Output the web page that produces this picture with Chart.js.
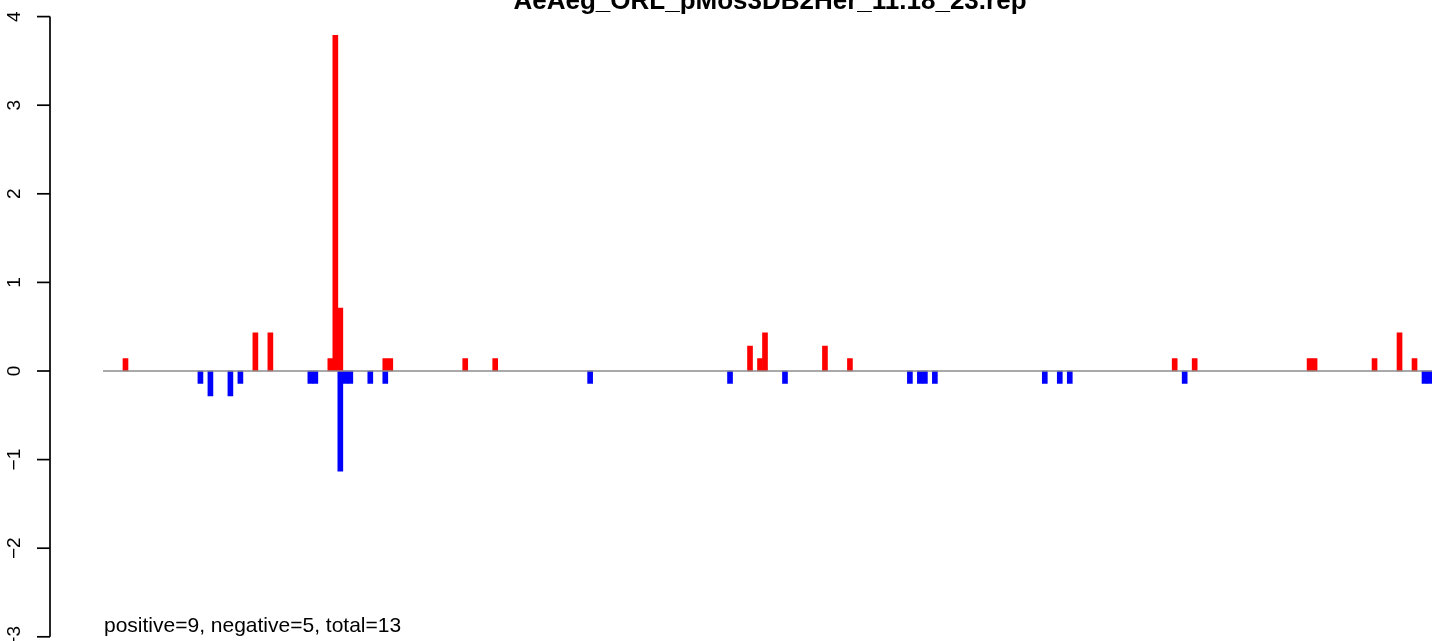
<!DOCTYPE html>
<html>
<head>
<meta charset="utf-8">
<title>AeAeg_ORL_pMos3DB2Her_11.18_23.rep</title>
<script src="https://cdn.jsdelivr.net/npm/chart.js@4/dist/chart.umd.min.js"></script>
<style>
  html, body { margin:0; padding:0; background:#ffffff; overflow:hidden; }
  canvas { display:block; }
</style>
</head>
<body>
<canvas id="chartRep" width="1441" height="641"></canvas>
<script>
/* barplot of positive / negative scores per position */
var slotCount = 266;
var posIndex = [4, 30, 33, 45, 46, 47, 56, 57, 72, 78, 129, 131, 132, 144, 149, 214, 218, 241, 242, 254, 259, 262];
var posValue = [0.14, 0.43, 0.43, 0.14, 3.79, 0.71, 0.14, 0.14, 0.14, 0.14, 0.28, 0.14, 0.43, 0.28, 0.14, 0.14, 0.14, 0.14, 0.14, 0.14, 0.43, 0.14];
var negIndex = [19, 21, 25, 27, 41, 42, 47, 48, 49, 53, 56, 97, 125, 136, 161, 163, 164, 166, 188, 191, 193, 216, 264, 265];
var negValue = [-0.14, -0.28, -0.28, -0.14, -0.14, -0.14, -1.13, -0.14, -0.14, -0.14, -0.14, -0.14, -0.14, -0.14, -0.14, -0.14, -0.14, -0.14, -0.14, -0.14, -0.14, -0.14, -0.14, -0.14];
var yMin = -3;
var yMax = 4;
var titleText = 'AeAeg_ORL_pMos3DB2Her_11.18_23.rep';
var noteText = 'positive=9, negative=5, total=13';

(function(){
'use strict';

function spread(idx, vals){
  var out = [];
  for(var i = 0; i < slotCount; i++) out.push(null);
  idx.forEach(function(k, j){ out[k] = vals[j]; });
  return out;
}

var labels = [];
for(var i = 0; i < slotCount; i++) labels.push(String(i + 1));

var rAxis = {
  id:'rAxis',
  afterDraw:function(chart){
    var ctx = chart.ctx;
    var y = chart.scales.y;
    var area = chart.chartArea;
    var axisX = 50;
    ctx.save();

    // zero line
    var y0 = y.getPixelForValue(0);
    ctx.strokeStyle = '#8c8c8c';
    ctx.lineWidth = 1.5;
    ctx.beginPath();
    ctx.moveTo(area.left, y0);
    ctx.lineTo(area.right, y0);
    ctx.stroke();

    // left axis, R style
    ctx.strokeStyle = '#000000';
    ctx.lineWidth = 1.7;
    ctx.beginPath();
    ctx.moveTo(axisX, y.getPixelForValue(yMax));
    ctx.lineTo(axisX, y.getPixelForValue(yMin));
    ctx.stroke();
    ctx.fillStyle = '#000000';
    ctx.font = '19px "Liberation Sans", Arial, sans-serif';
    ctx.textAlign = 'center';
    ctx.textBaseline = 'middle';
    y.ticks.forEach(function(t){
      var py = y.getPixelForValue(t.value);
      ctx.beginPath();
      ctx.moveTo(axisX - 13, py);
      ctx.lineTo(axisX, py);
      ctx.stroke();
      ctx.save();
      ctx.translate(15, py);
      ctx.rotate(-Math.PI / 2);
      ctx.fillText(t.value < 0 ? '\u2212' + Math.abs(t.value) : String(t.value), 0, 0);
      ctx.restore();
    });

    // title (cut by the top edge) and note
    ctx.font = 'bold 26px "Liberation Sans", Arial, sans-serif';
    ctx.textBaseline = 'alphabetic';
    ctx.fillText(titleText, 770, 9);
    ctx.font = '21px "Liberation Sans", Arial, sans-serif';
    ctx.textAlign = 'left';
    ctx.fillText(noteText, 104, 632);
    ctx.restore();
  }
};

new Chart(document.getElementById('chartRep'), {
  type:'bar',
  data:{
    labels:labels,
    datasets:[
      {label:'positive', data:spread(posIndex, posValue), backgroundColor:'#ff0000', borderWidth:0},
      {label:'negative', data:spread(negIndex, negValue), backgroundColor:'#0000ff', borderWidth:0}
    ]
  },
  options:{
    responsive:false,
    animation:false,
    layout:{padding:{left:103, right:9, top:16.6, bottom:4.2}},
    datasets:{bar:{barPercentage:1, categoryPercentage:1}},
    plugins:{legend:{display:false}, tooltip:{enabled:false}, title:{display:false}},
    scales:{
      x:{display:false, stacked:true},
      y:{display:false, stacked:true, min:yMin, max:yMax, ticks:{stepSize:1}}
    }
  },
  plugins:[rAxis]
});
})();
</script>
</body>
</html>
